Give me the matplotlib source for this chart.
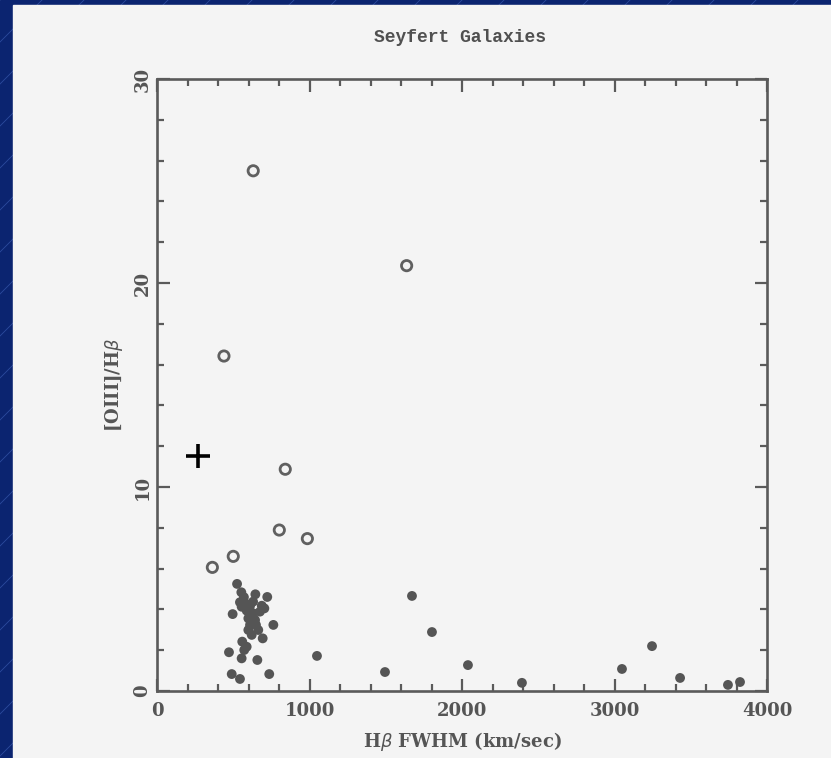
import numpy as np
import matplotlib
matplotlib.use("Agg")
import matplotlib.pyplot as plt
from matplotlib.patches import Rectangle
from matplotlib.ticker import MultipleLocator

# narrow-line objects (open circles)
open_fwhm = [631, 1637, 439, 841, 802, 986, 500, 363]
open_ratio = [25.5, 20.85, 16.42, 10.87, 7.89, 7.47, 6.6, 6.06]

# single cross
cross_fwhm = [267]
cross_ratio = [11.53]

# broad-line Seyferts (filled dots)
dot_fwhm = [525, 553, 645, 723, 544, 577, 630, 555, 610, 687, 704, 496, 588,
            631, 675, 599, 643, 763, 599, 664, 621, 693, 559, 588, 572, 472,
            555, 658, 490, 544, 736, 610, 570, 649,
            1049, 1672, 1803, 1495, 2039, 2393, 3049, 3246, 3430, 3744, 3823]
dot_ratio = [5.25, 4.84, 4.74, 4.61, 4.35, 4.31, 4.38, 4.13, 4.17, 4.18, 4.05,
             3.77, 3.94, 3.81, 3.89, 3.56, 3.48, 3.24, 2.99, 2.99, 2.75, 2.58,
             2.42, 2.17, 2.01, 1.90, 1.60, 1.52, 0.83, 0.59, 0.83, 3.24, 4.6,
             3.24,
             1.72, 4.66, 2.89, 0.93, 1.27, 0.4, 1.08, 2.2, 0.64, 0.3, 0.44]

W, H = 831, 758
fig = plt.figure(figsize=(W / 100, H / 100), dpi=100)

# slide background: blue with faint diagonal lines, paper panel on top
bg = fig.add_axes([0, 0, 1, 1])
bg.set_xlim(0, W)
bg.set_ylim(H, 0)
bg.axis("off")
bg.add_patch(Rectangle((0, 0), W, H, color="#0b2470", zorder=0))
for c in np.arange(0, W + H, 42):
    bg.plot([c - H, c], [H, 0], color="#3a5bb0", lw=0.6, alpha=0.7, zorder=1)
bg.add_patch(Rectangle((13, 5), W - 13, H - 5, color="#f4f4f4", zorder=2))

gray = "#5a5a5a"
ax = fig.add_axes([157 / W, 1 - 691 / H, 610 / W, 612 / H])
ax.set_facecolor("none")

ax.scatter(dot_fwhm, dot_ratio, s=50, color="#555555", edgecolors="none", zorder=3)
ax.scatter(open_fwhm, open_ratio, s=55, facecolors="none", edgecolors="#606060",
           linewidths=2.0, zorder=3)
ax.plot(cross_fwhm, cross_ratio, marker="+", ms=17, mew=2.6, color="black",
        linestyle="none", zorder=4)

ax.set_xlim(0, 4000)
ax.set_ylim(0, 30)
ax.xaxis.set_major_locator(MultipleLocator(1000))
ax.xaxis.set_minor_locator(MultipleLocator(200))
ax.yaxis.set_major_locator(MultipleLocator(10))
ax.yaxis.set_minor_locator(MultipleLocator(2))

for s in ax.spines.values():
    s.set_color(gray)
    s.set_linewidth(1.9)
ax.tick_params(which="both", direction="in", top=True, right=True,
               color=gray, width=1.6)
ax.tick_params(which="major", length=9)
ax.tick_params(which="minor", length=5)
ax.tick_params(axis="x", pad=8)
ax.tick_params(axis="y", pad=4)

lab_font = dict(family="DejaVu Serif", weight="bold", size=13, color="#555555")
ax.set_xticks([0, 1000, 2000, 3000, 4000])
ax.set_xticklabels(["0", "1000", "2000", "3000", "4000"], **lab_font)
ax.set_yticks([0, 10, 20, 30])
ax.set_yticklabels(["0", "10", "20", "30"], rotation=90, va="center", **lab_font)

ax.set_xlabel("H$\\beta$ FWHM (km/sec)", labelpad=7, **lab_font)
ax.set_ylabel("[OIII]/H$\\beta$", labelpad=6, **lab_font)

fig.text(460 / W, 1 - 37 / H, "Seyfert Galaxies", ha="center", va="center",
         family="Liberation Mono", weight="bold", size=13, color="#505050")

fig.savefig("out.png", dpi=100)
